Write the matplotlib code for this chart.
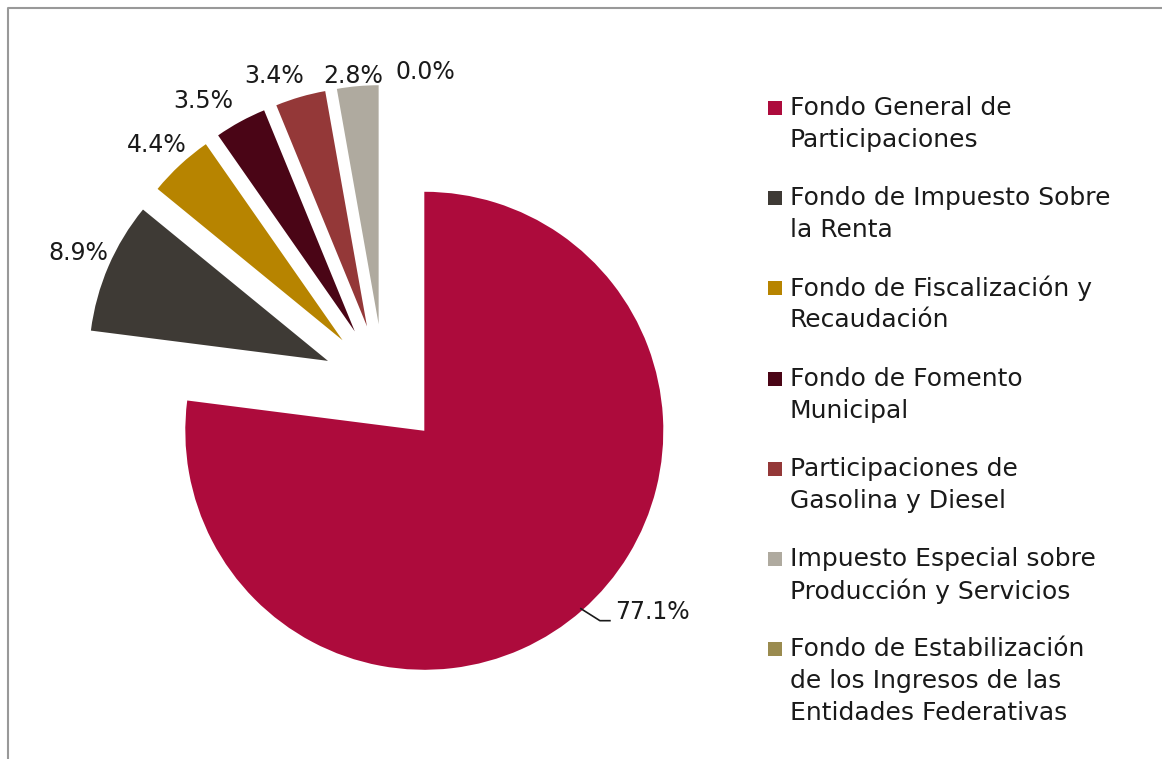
import matplotlib.pyplot as plt
import numpy as np

# data
labels = [
    "Fondo General de\nParticipaciones",
    "Fondo de Impuesto Sobre\nla Renta",
    "Fondo de Fiscalización y\nRecaudación",
    "Fondo de Fomento\nMunicipal",
    "Participaciones de\nGasolina y Diesel",
    "Impuesto Especial sobre\nProducción y Servicios",
    "Fondo de Estabilización\nde los Ingresos de las\nEntidades Federativas",
]
shares = [77.1, 8.9, 4.4, 3.5, 3.4, 2.8, 0.0]
colors = ["#AD0B3C", "#3E3A35", "#B78400", "#4A0516", "#943838", "#AFAA9F", "#9A8B4F"]

W, H = 1162, 759
FONT = "DejaVu Sans"
FS = 17
FS_LEG = 18

fig = plt.figure(figsize=(W / 100, H / 100), dpi=100)
ax = fig.add_axes([0, 0, 1, 1])

# pie in pixel units (y up)
wedges, _ = ax.pie(
    shares,
    colors=colors,
    startangle=90,
    counterclock=False,
    explode=[61] * len(shares),
    radius=239,
    center=(384, H - 385),
    wedgeprops=dict(linewidth=0),
)
ax.set_xlim(0, W)
ax.set_ylim(0, H)
ax.set_aspect("auto")
ax.axis("off")

# percentage labels for small slices, nudged like the original (dx, dy in px)
label_r = 270
nudges = {1: (-2, 1), 2: (-2, -3), 3: (-22, -7), 4: (-18, -9), 5: (-2, -21), 6: (41, -18)}
for i, w in enumerate(wedges):
    if i == 0:
        continue
    th = np.deg2rad(0.5 * (w.theta1 + w.theta2))
    cx, cy = w.center
    dx, dy = nudges[i]
    ax.text(cx + label_r * np.cos(th) + dx, cy + label_r * np.sin(th) + dy,
            f"{shares[i]:.1f}%", ha="center", va="center",
            fontsize=FS, family=FONT, color="#1a1a1a")

# big slice label with leader line
w = wedges[0]
th = np.deg2rad(0.5 * (w.theta1 + w.theta2))
cx, cy = w.center
x0, y0 = cx + 237 * np.cos(th), cy + 237 * np.sin(th)
xs = [x0, x0 + 19, x0 + 29]
ys = [y0, y0 - 12, y0 - 12]
ax.plot(xs, ys, color="#1a1a1a", lw=1.2)
ax.text(xs[-1] + 5, ys[-1] + 9, f"{shares[0]:.1f}%", ha="left", va="center",
        fontsize=FS, family=FONT, color="#1a1a1a")

# legend drawn by hand so the square sits on the first line
for i, (lab, c) in enumerate(zip(labels, colors)):
    ytop = 108 + i * 90.2
    ax.add_patch(plt.Rectangle((768, H - ytop - 7), 14, 14, color=c, lw=0))
    for j, line in enumerate(lab.split("\n")):
        ax.text(790, H - (ytop + j * 32), line, ha="left", va="center",
                fontsize=FS_LEG, family=FONT, color="#1a1a1a")

# frame (left and top only visible)
ax.plot([8, 8, W], [0, H - 8, H - 8], color="#999999", lw=1.5, clip_on=False)

fig.savefig("out.png", dpi=100)
